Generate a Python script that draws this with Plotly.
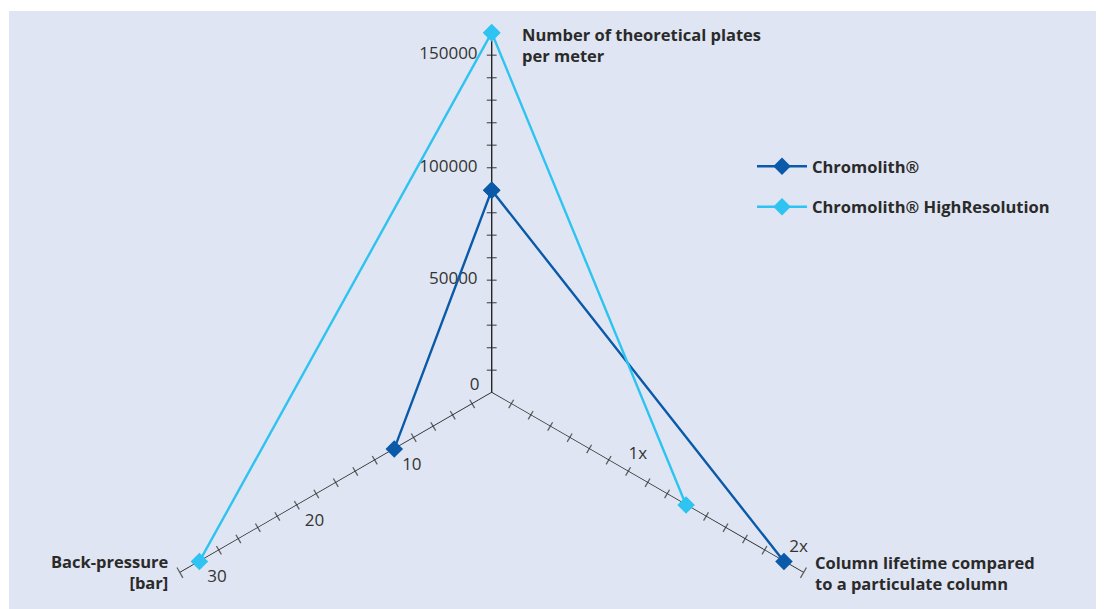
import plotly.graph_objects as go

# ---------------- data ----------------
axis_titles = ["Number of theoretical plates<br>per meter",
               "Column lifetime compared<br>to a particulate column",
               "Back-pressure<br>[bar]"]
axis_theta = [90, -30, 210]                 # direction of each axis (deg)
axis_max = [160000, 2 * 16 / 15, 32]        # value reached at the end of each axis
n_ticks = 16                                # tick intervals along every axis

series_names = ["Chromolith®", "Chromolith® HighResolution"]
chromolith = [90000, 2.0, 10]
chromolith_hr = [160000, 1.33, 30]
series_values = [chromolith, chromolith_hr]
series_colors = ["#0a5aa9", "#2ec3f0"]

plates_tick_vals = [50000, 100000, 150000]
plates_tick_text = ["50000", "100000", "150000"]
plates_zero_text = ["0"]
lifetime_tick_vals = [1, 2]
lifetime_tick_text = ["1x", "2x"]
pressure_tick_vals = [10, 20, 30]
pressure_tick_text = ["10", "20", "30"]

BG = "#dfe5f2"
AXC = "#262626"
TXT = "#333333"
W, H = 1096, 601          # figure size (page has an 8 px body margin)
OFF = 8


def px(x):                # page pixel -> paper x
    return (x - OFF) / W


def py(y):                # page pixel -> paper y
    return 1 - (y - OFF) / H


def norm(i, v):
    return v / axis_max[i]


fig = go.Figure()

# ---------------- axes ----------------
tick_r = [k / n_ticks for k in range(1, n_ticks)]
for i, th in enumerate(axis_theta):
    fig.add_trace(go.Scatterpolar(
        r=[0, 1], theta=[th, th], mode="lines",
        line=dict(color=AXC, width=1.4), showlegend=False,
        hoverinfo="skip", cliponaxis=False))
    if i == 0:
        sym, ang = "line-ew-open", 0
    elif i == 1:
        sym, ang = "line-ns-open", 30
    else:
        sym, ang = "line-ns-open", -30
    fig.add_trace(go.Scatterpolar(
        r=tick_r + [1], theta=[th] * n_ticks, mode="markers",
        marker=dict(symbol=sym, angle=ang, size=[7] * (n_ticks - 1) + [8.5],
                    color=AXC, line=dict(color=AXC, width=1.3)),
        showlegend=False, hoverinfo="skip", cliponaxis=False))

# ---------------- tick labels ----------------
lab_font = dict(family="Open Sans", size=17, color=TXT)


def hidden(size):
    return dict(size=size, color="rgba(0,0,0,0)", opacity=0, line=dict(width=0))


fig.add_trace(go.Scatterpolar(
    r=[norm(0, v) for v in plates_tick_vals], theta=[axis_theta[0]] * 3,
    mode="markers+text", text=plates_tick_text, textposition="middle left",
    marker=hidden(21), textfont=lab_font,
    showlegend=False, hoverinfo="skip", cliponaxis=False))
fig.add_trace(go.Scatterpolar(
    r=[0.02], theta=[axis_theta[0]],
    mode="markers+text", text=plates_zero_text, textposition="middle left",
    marker=hidden(18), textfont=lab_font,
    showlegend=False, hoverinfo="skip", cliponaxis=False))
fig.add_trace(go.Scatterpolar(
    r=[norm(1, v) for v in lifetime_tick_vals], theta=[axis_theta[1]] * 2,
    mode="markers+text", text=lifetime_tick_text,
    textposition=["top center", "top right"],
    marker=hidden([20, 7]), textfont=lab_font,
    showlegend=False, hoverinfo="skip", cliponaxis=False))
fig.add_trace(go.Scatterpolar(
    r=[norm(2, v) for v in pressure_tick_vals], theta=[axis_theta[2]] * 3,
    mode="markers+text", text=pressure_tick_text, textposition="bottom right",
    marker=hidden(11), textfont=lab_font,
    showlegend=False, hoverinfo="skip", cliponaxis=False))

# ---------------- series ----------------
for name, vals, col in zip(series_names, series_values, series_colors):
    rr = [norm(i, v) for i, v in enumerate(vals)]
    fig.add_trace(go.Scatterpolar(
        r=rr + [rr[0]], theta=axis_theta + [axis_theta[0]],
        mode="lines+markers", name=name, legendgroup=name,
        line=dict(color=col, width=2.4),
        marker=dict(symbol="diamond", size=13.5, color=col),
        cliponaxis=False))

# ---------------- axis titles ----------------
tfont = dict(family="Open Sans", size=16.5, color="#2a2a2a", weight="bold")
annotations = [
    dict(text=axis_titles[0], x=px(520), y=py(45.5), xanchor="left",
         yanchor="middle", align="left"),
    dict(text=axis_titles[1], x=px(813), y=py(573), xanchor="left",
         yanchor="middle", align="left"),
    dict(text=axis_titles[2], x=px(171), y=py(572), xanchor="right",
         yanchor="middle", align="right"),
]
for a in annotations:
    a.update(xref="paper", yref="paper", showarrow=False, font=tfont)

fig.update_layout(
    width=W, height=H,
    margin=dict(l=0, r=0, t=0, b=0),
    paper_bgcolor="white",
    shapes=[dict(type="rect", xref="paper", yref="paper", x0=px(9), x1=1,
                 y0=0, y1=py(11), fillcolor=BG, line=dict(width=0),
                 layer="below")],
    polar=dict(
        domain=dict(x=[px(131.7), px(851.7)], y=[py(572.7), py(32.7)]),
        sector=[-30, 210],
        bgcolor="rgba(0,0,0,0)",
        radialaxis=dict(visible=False, range=[0, 1]),
        angularaxis=dict(visible=False, rotation=0, direction="counterclockwise"),
    ),
    annotations=annotations,
    legend=dict(x=px(752), y=py(149), xanchor="left", yanchor="top",
                bgcolor="rgba(0,0,0,0)", traceorder="grouped",
                tracegroupgap=16, itemwidth=50,
                font=dict(family="Open Sans", size=16.5, color="#2a2a2a", weight="bold")),
    hovermode=False,
)

fig.write_html("out.html")
